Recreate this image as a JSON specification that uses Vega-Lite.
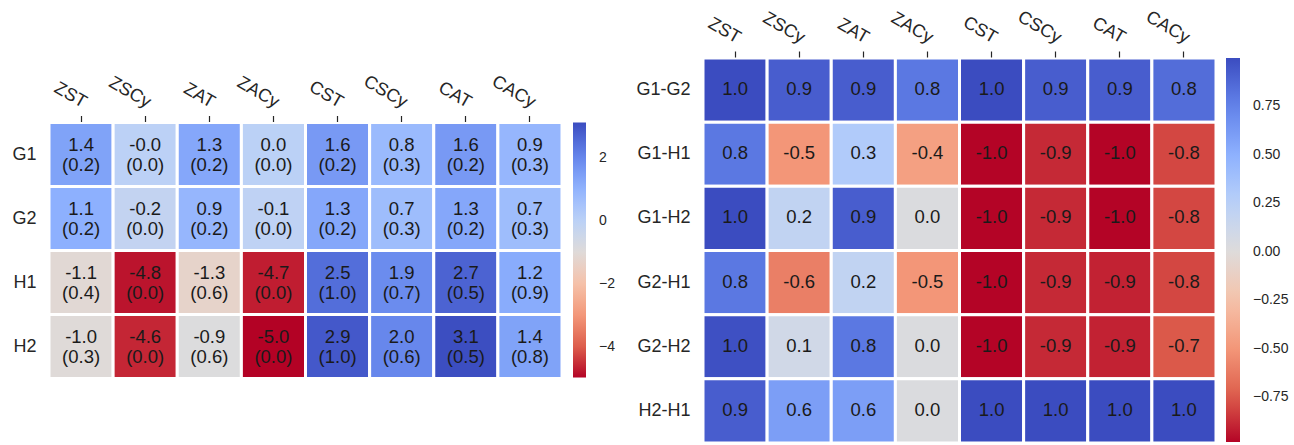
{
  "$schema": "https://vega.github.io/schema/vega-lite/v6.json",
  "autosize": {"type": "pad"},
  "padding": {"left": 11, "top": 7, "right": 0, "bottom": 0},
  "background": "white",
  "datasets": {
    "left": [
      {"row": "G1", "col": "ZST", "val": 1.4, "lab": "1.4\n(0.2)"},
      {"row": "G1", "col": "ZSCy", "val": -0.02, "lab": "-0.0\n(0.0)"},
      {"row": "G1", "col": "ZAT", "val": 1.3, "lab": "1.3\n(0.2)"},
      {"row": "G1", "col": "ZACy", "val": 0.0, "lab": "0.0\n(0.0)"},
      {"row": "G1", "col": "CST", "val": 1.6, "lab": "1.6\n(0.2)"},
      {"row": "G1", "col": "CSCy", "val": 0.8, "lab": "0.8\n(0.3)"},
      {"row": "G1", "col": "CAT", "val": 1.6, "lab": "1.6\n(0.2)"},
      {"row": "G1", "col": "CACy", "val": 0.9, "lab": "0.9\n(0.3)"},
      {"row": "G2", "col": "ZST", "val": 1.1, "lab": "1.1\n(0.2)"},
      {"row": "G2", "col": "ZSCy", "val": -0.2, "lab": "-0.2\n(0.0)"},
      {"row": "G2", "col": "ZAT", "val": 0.9, "lab": "0.9\n(0.2)"},
      {"row": "G2", "col": "ZACy", "val": -0.1, "lab": "-0.1\n(0.0)"},
      {"row": "G2", "col": "CST", "val": 1.3, "lab": "1.3\n(0.2)"},
      {"row": "G2", "col": "CSCy", "val": 0.7, "lab": "0.7\n(0.3)"},
      {"row": "G2", "col": "CAT", "val": 1.3, "lab": "1.3\n(0.2)"},
      {"row": "G2", "col": "CACy", "val": 0.7, "lab": "0.7\n(0.3)"},
      {"row": "H1", "col": "ZST", "val": -1.1, "lab": "-1.1\n(0.4)"},
      {"row": "H1", "col": "ZSCy", "val": -4.8, "lab": "-4.8\n(0.0)"},
      {"row": "H1", "col": "ZAT", "val": -1.3, "lab": "-1.3\n(0.6)"},
      {"row": "H1", "col": "ZACy", "val": -4.7, "lab": "-4.7\n(0.0)"},
      {"row": "H1", "col": "CST", "val": 2.5, "lab": "2.5\n(1.0)"},
      {"row": "H1", "col": "CSCy", "val": 1.9, "lab": "1.9\n(0.7)"},
      {"row": "H1", "col": "CAT", "val": 2.7, "lab": "2.7\n(0.5)"},
      {"row": "H1", "col": "CACy", "val": 1.2, "lab": "1.2\n(0.9)"},
      {"row": "H2", "col": "ZST", "val": -1.0, "lab": "-1.0\n(0.3)"},
      {"row": "H2", "col": "ZSCy", "val": -4.6, "lab": "-4.6\n(0.0)"},
      {"row": "H2", "col": "ZAT", "val": -0.9, "lab": "-0.9\n(0.6)"},
      {"row": "H2", "col": "ZACy", "val": -5.0, "lab": "-5.0\n(0.0)"},
      {"row": "H2", "col": "CST", "val": 2.9, "lab": "2.9\n(1.0)"},
      {"row": "H2", "col": "CSCy", "val": 2.0, "lab": "2.0\n(0.6)"},
      {"row": "H2", "col": "CAT", "val": 3.1, "lab": "3.1\n(0.5)"},
      {"row": "H2", "col": "CACy", "val": 1.4, "lab": "1.4\n(0.8)"}
    ],
    "right": [
      {"row": "G1-G2", "col": "ZST", "val": 1.0, "lab": "1.0"},
      {"row": "G1-G2", "col": "ZSCy", "val": 0.92, "lab": "0.9"},
      {"row": "G1-G2", "col": "ZAT", "val": 0.92, "lab": "0.9"},
      {"row": "G1-G2", "col": "ZACy", "val": 0.8, "lab": "0.8"},
      {"row": "G1-G2", "col": "CST", "val": 1.0, "lab": "1.0"},
      {"row": "G1-G2", "col": "CSCy", "val": 0.92, "lab": "0.9"},
      {"row": "G1-G2", "col": "CAT", "val": 0.92, "lab": "0.9"},
      {"row": "G1-G2", "col": "CACy", "val": 0.85, "lab": "0.8"},
      {"row": "G1-H1", "col": "ZST", "val": 0.8, "lab": "0.8"},
      {"row": "G1-H1", "col": "ZSCy", "val": -0.5, "lab": "-0.5"},
      {"row": "G1-H1", "col": "ZAT", "val": 0.3, "lab": "0.3"},
      {"row": "G1-H1", "col": "ZACy", "val": -0.45, "lab": "-0.4"},
      {"row": "G1-H1", "col": "CST", "val": -0.98, "lab": "-1.0"},
      {"row": "G1-H1", "col": "CSCy", "val": -0.88, "lab": "-0.9"},
      {"row": "G1-H1", "col": "CAT", "val": -0.98, "lab": "-1.0"},
      {"row": "G1-H1", "col": "CACy", "val": -0.8, "lab": "-0.8"},
      {"row": "G1-H2", "col": "ZST", "val": 1.0, "lab": "1.0"},
      {"row": "G1-H2", "col": "ZSCy", "val": 0.2, "lab": "0.2"},
      {"row": "G1-H2", "col": "ZAT", "val": 0.92, "lab": "0.9"},
      {"row": "G1-H2", "col": "ZACy", "val": 0.03, "lab": "0.0"},
      {"row": "G1-H2", "col": "CST", "val": -0.98, "lab": "-1.0"},
      {"row": "G1-H2", "col": "CSCy", "val": -0.88, "lab": "-0.9"},
      {"row": "G1-H2", "col": "CAT", "val": -0.98, "lab": "-1.0"},
      {"row": "G1-H2", "col": "CACy", "val": -0.8, "lab": "-0.8"},
      {"row": "G2-H1", "col": "ZST", "val": 0.8, "lab": "0.8"},
      {"row": "G2-H1", "col": "ZSCy", "val": -0.6, "lab": "-0.6"},
      {"row": "G2-H1", "col": "ZAT", "val": 0.2, "lab": "0.2"},
      {"row": "G2-H1", "col": "ZACy", "val": -0.5, "lab": "-0.5"},
      {"row": "G2-H1", "col": "CST", "val": -0.98, "lab": "-1.0"},
      {"row": "G2-H1", "col": "CSCy", "val": -0.88, "lab": "-0.9"},
      {"row": "G2-H1", "col": "CAT", "val": -0.9, "lab": "-0.9"},
      {"row": "G2-H1", "col": "CACy", "val": -0.8, "lab": "-0.8"},
      {"row": "G2-H2", "col": "ZST", "val": 0.98, "lab": "1.0"},
      {"row": "G2-H2", "col": "ZSCy", "val": 0.1, "lab": "0.1"},
      {"row": "G2-H2", "col": "ZAT", "val": 0.8, "lab": "0.8"},
      {"row": "G2-H2", "col": "ZACy", "val": 0.03, "lab": "0.0"},
      {"row": "G2-H2", "col": "CST", "val": -0.98, "lab": "-1.0"},
      {"row": "G2-H2", "col": "CSCy", "val": -0.88, "lab": "-0.9"},
      {"row": "G2-H2", "col": "CAT", "val": -0.9, "lab": "-0.9"},
      {"row": "G2-H2", "col": "CACy", "val": -0.75, "lab": "-0.7"},
      {"row": "H2-H1", "col": "ZST", "val": 0.92, "lab": "0.9"},
      {"row": "H2-H1", "col": "ZSCy", "val": 0.6, "lab": "0.6"},
      {"row": "H2-H1", "col": "ZAT", "val": 0.6, "lab": "0.6"},
      {"row": "H2-H1", "col": "ZACy", "val": 0.03, "lab": "0.0"},
      {"row": "H2-H1", "col": "CST", "val": 1.0, "lab": "1.0"},
      {"row": "H2-H1", "col": "CSCy", "val": 1.0, "lab": "1.0"},
      {"row": "H2-H1", "col": "CAT", "val": 1.0, "lab": "1.0"},
      {"row": "H2-H1", "col": "CACy", "val": 1.0, "lab": "1.0"}
    ]
  },
  "hconcat": [
    {
      "width": 513,
      "height": 256,
      "data": {"name": "left"},
      "encoding": {
        "x": {
          "field": "col", "type": "nominal",
          "sort": ["ZST", "ZSCy", "ZAT", "ZACy", "CST", "CSCy", "CAT", "CACy"],
          "scale": {"paddingInner": 0, "paddingOuter": 0},
          "axis": {"orient": "top", "title": null, "labelAngle": 30, "labelAlign": "right", "labelBaseline": "middle", "labelPadding": 12, "labelOffset": 4, "tickSize": 6, "offset": 1}
        },
        "y": {
          "field": "row", "type": "nominal",
          "sort": ["G1", "G2", "H1", "H2"],
          "scale": {"paddingInner": 0, "paddingOuter": 0},
          "axis": {"title": null, "ticks": false, "tickSize": 0, "labelPadding": 13, "labelAngle": 0}
        }
      },
      "layer": [
        {
          "mark": {"type": "rect", "stroke": "white", "strokeWidth": 3},
          "encoding": {
            "color": {
              "field": "val", "type": "quantitative",
              "scale": {
                "type": "linear", "interpolate": "rgb",
                "domain": [-4.98, -3.966, -2.953, -1.939, -0.925, 0.089, 1.103, 2.116, 3.13],
                "range": ["#b40426", "#de604d", "#f49a7b", "#f5c4ac", "#dddcdc", "#b8d0f9", "#8db0fe", "#6282ea", "#3b4cc0"]
              },
              "legend": {"title": null, "values": [2, 0, -2, -4], "format": "d", "gradientLength": 255, "gradientThickness": 13, "offset": 11, "labelOffset": 13, "gradientStrokeWidth": 0}
            }
          }
        },
        {
          "mark": {"type": "text", "lineBreak": "\n", "lineHeight": 20.5, "dy": -10, "fontSize": 18.5, "font": "Liberation Sans", "color": "#1a1a1a", "baseline": "middle", "align": "center"},
          "encoding": {"text": {"field": "lab", "type": "nominal"}}
        }
      ]
    },
    {
      "width": 513,
      "height": 385,
      "data": {"name": "right"},
      "encoding": {
        "x": {
          "field": "col", "type": "nominal",
          "sort": ["ZST", "ZSCy", "ZAT", "ZACy", "CST", "CSCy", "CAT", "CACy"],
          "scale": {"paddingInner": 0, "paddingOuter": 0},
          "axis": {"orient": "top", "title": null, "labelAngle": 30, "labelAlign": "right", "labelBaseline": "middle", "labelPadding": 12, "labelOffset": 4, "tickSize": 6, "offset": 1}
        },
        "y": {
          "field": "row", "type": "nominal",
          "sort": ["G1-G2", "G1-H1", "G1-H2", "G2-H1", "G2-H2", "H2-H1"],
          "scale": {"paddingInner": 0, "paddingOuter": 0},
          "axis": {"title": null, "ticks": false, "tickSize": 0, "labelPadding": 13, "labelAngle": 0}
        }
      },
      "layer": [
        {
          "mark": {"type": "rect", "stroke": "white", "strokeWidth": 3},
          "encoding": {
            "color": {
              "field": "val", "type": "quantitative",
              "scale": {
                "type": "linear", "interpolate": "rgb",
                "domain": [-0.98, -0.7325, -0.485, -0.2375, 0.01, 0.2575, 0.505, 0.7525, 1.0],
                "range": ["#b40426", "#de604d", "#f49a7b", "#f5c4ac", "#dddcdc", "#b8d0f9", "#8db0fe", "#6282ea", "#3b4cc0"]
              },
              "legend": {"title": null, "values": [0.75, 0.5, 0.25, 0, -0.25, -0.5, -0.75], "format": ".2f", "gradientLength": 384, "gradientThickness": 14, "offset": 10, "labelOffset": 13, "gradientStrokeWidth": 0}
            }
          }
        },
        {
          "mark": {"type": "text", "fontSize": 18.5, "font": "Liberation Sans", "color": "#1a1a1a", "baseline": "middle", "align": "center", "dy": -1},
          "encoding": {"text": {"field": "lab", "type": "nominal"}}
        }
      ]
    }
  ],
  "spacing": 141,
  "bounds": "flush",
  "center": true,
  "resolve": {"scale": {"color": "independent", "x": "independent", "y": "independent"}, "legend": {"color": "independent"}},
  "config": {
    "view": {"stroke": null},
    "font": "Liberation Sans",
    "axis": {"domain": false, "grid": false, "labelFont": "Liberation Sans", "labelFontSize": 18, "labelColor": "#262626", "tickColor": "#262626", "tickWidth": 1.2},
    "legend": {"labelFont": "Liberation Sans", "labelFontSize": 14, "labelColor": "#262626", "padding": 0}
  }
}
